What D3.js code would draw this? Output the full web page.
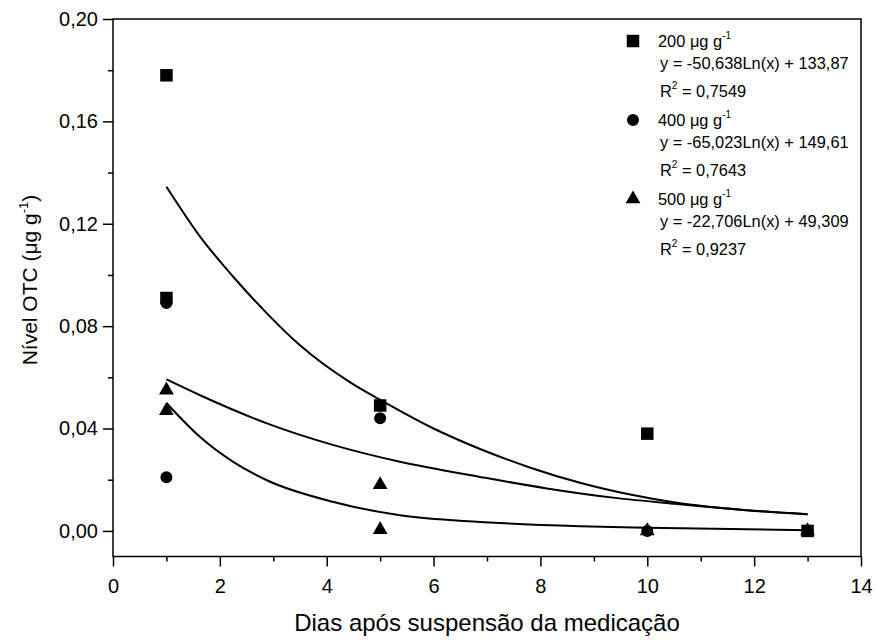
<!DOCTYPE html>
<html>
<head>
<meta charset="utf-8">
<script src="https://cdn.jsdelivr.net/npm/d3@7"></script>
<style>
  body { margin: 0; background: #fff; }
  text { font-family: "Liberation Sans", Arial, sans-serif; fill: #000; }
</style>
</head>
<body>
<script>
// Measured points (days, OTC level)
var days200 = [1, 1, 5, 10, 13];
var level200 = [0.178, 0.091, 0.049, 0.038, 0.0];
var days400 = [1, 1, 5, 10, 13];
var level400 = [0.089, 0.021, 0.044, 0.0, 0.0];
var days500 = [1, 1, 5, 5, 10, 13];
var level500 = [0.055, 0.047, 0.018, 0.0005, 0.0, 0.0];

// Fitted curves
var fitDays200 = [1, 1.63, 2.25, 2.88, 3.5, 4.44, 5.06, 6, 6.87, 7.8, 8.74, 9.68, 10.61, 11.86, 13];
var fitLevel200 = [0.1345, 0.115, 0.0993, 0.085, 0.0725, 0.058, 0.0505, 0.040, 0.032, 0.0248, 0.0188, 0.0142, 0.0108, 0.0081, 0.0065];
var fitDays400 = [1, 1.63, 2.88, 4.13, 5.37, 6.87, 8.12, 9.36, 10.61, 11.86, 13];
var fitLevel400 = [0.0592, 0.053, 0.042, 0.0335, 0.027, 0.0211, 0.0166, 0.013, 0.0104, 0.0081, 0.0065];
var fitDays500 = [1, 1.63, 2.25, 2.88, 4.13, 5.37, 6.87, 8.74, 10, 13];
var fitLevel500 = [0.050, 0.0367, 0.027, 0.0198, 0.0113, 0.0061, 0.0035, 0.0018, 0.0012, 0.0003];

// Legend texts
var seriesNames = ["200", "400", "500"];
var equations = ["y = -50,638Ln(x) + 133,87", "y = -65,023Ln(x) + 149,61", "y = -22,706Ln(x) + 49,309"];
var r2Values = ["0,7549", "0,7643", "0,9237"];

// Axis ticks
var xMajorTicks = [0, 2, 4, 6, 8, 10, 12, 14];
var xMinorTicks = [1, 3, 5, 7, 9, 11, 13];
var yMajorTicks = [0, 0.04, 0.08, 0.12, 0.16, 0.20];
var yMinorTicks = [0.02, 0.06, 0.10, 0.14, 0.18];

var width = 878, height = 641;
// plot box edges (window.top is read-only, so not "top")
var boxLeft = 113, boxRight = 861, boxTop = 19, boxBottom = 556.5;

var svg = d3.select("body").append("svg")
    .attr("width", width)
    .attr("height", height);

var x = d3.scaleLinear().domain([0, 14]).range([boxLeft, boxRight]);
var y = d3.scaleLinear().domain([-0.01, 0.20]).range([boxBottom, boxTop]);

function comma(d) { return d3.format(".2f")(d).replace(".", ","); }

// minor ticks first (no labels)
svg.append("g")
    .attr("transform", "translate(0," + boxBottom + ")")
    .call(d3.axisBottom(x).tickValues(xMinorTicks).tickSize(5).tickFormat(""))
    .call(function (g) { g.select(".domain").remove(); g.selectAll("line").attr("stroke-width", 1.5); });
svg.append("g")
    .attr("transform", "translate(" + boxLeft + ",0)")
    .call(d3.axisLeft(y).tickValues(yMinorTicks).tickSize(5).tickFormat(""))
    .call(function (g) { g.select(".domain").remove(); g.selectAll("line").attr("stroke-width", 1.5); });

// major ticks with labels
svg.append("g")
    .attr("transform", "translate(0," + boxBottom + ")")
    .call(d3.axisBottom(x).tickValues(xMajorTicks).tickSize(10).tickPadding(12))
    .call(function (g) {
        g.select(".domain").remove();
        g.selectAll("line").attr("stroke-width", 1.5);
        g.selectAll("text").attr("font-size", 20).attr("font-family", null);
    });
svg.append("g")
    .attr("transform", "translate(" + boxLeft + ",0)")
    .call(d3.axisLeft(y).tickValues(yMajorTicks).tickSize(10).tickPadding(5).tickFormat(comma))
    .call(function (g) {
        g.select(".domain").remove();
        g.selectAll("line").attr("stroke-width", 1.5);
        g.selectAll("text").attr("font-size", 20).attr("font-family", null);
    });

// frame
svg.append("rect")
    .attr("x", boxLeft).attr("y", boxTop)
    .attr("width", boxRight - boxLeft).attr("height", boxBottom - boxTop)
    .attr("fill", "none").attr("stroke", "#000").attr("stroke-width", 1.5);

// axis titles
svg.append("text")
    .attr("x", (boxLeft + boxRight) / 2).attr("y", 631)
    .attr("text-anchor", "middle").attr("font-size", 24)
    .text("Dias após suspensão da medicação");

var yTitle = svg.append("text")
    .attr("transform", "translate(37,280) rotate(-90)")
    .attr("text-anchor", "middle").attr("font-size", 21);
yTitle.append("tspan").text("Nível OTC (μg g");
yTitle.append("tspan").attr("font-size", 13).attr("dy", -9).text("-1");
yTitle.append("tspan").attr("dy", 9).text(")");

// fitted curves
var line = d3.line()
    .x(function (d) { return x(d[0]); })
    .y(function (d) { return y(d[1]); })
    .curve(d3.curveMonotoneX);

[[fitDays200, fitLevel200], [fitDays400, fitLevel400], [fitDays500, fitLevel500]].forEach(function (f) {
    svg.append("path")
        .attr("d", line(d3.zip(f[0], f[1])))
        .attr("fill", "none").attr("stroke", "#000").attr("stroke-width", 2);
});

// markers
var symbols = [d3.symbolSquare, d3.symbolCircle, d3.symbolTriangle];
var sizes = [156, 113, 95];
var series = [[days200, level200], [days400, level400], [days500, level500]];

series.forEach(function (s, i) {
    svg.append("g").selectAll("path")
        .data(d3.zip(s[0], s[1]))
        .enter()
        .append("path")
        .attr("transform", function (d) { return "translate(" + x(d[0]) + "," + y(d[1]) + ")"; })
        .attr("d", d3.symbol().type(symbols[i]).size(sizes[i]))
        .attr("fill", "#000");
});

// legend
var legendRows = [41, 120, 199];
seriesNames.forEach(function (name, i) {
    var ly = legendRows[i];
    svg.append("path")
        .attr("transform", "translate(633," + ly + ")")
        .attr("d", d3.symbol().type(symbols[i]).size(sizes[i]))
        .attr("fill", "#000");
    var t = svg.append("text").attr("x", 658).attr("y", ly + 6).attr("font-size", 16.4);
    t.append("tspan").text(name + " μg g");
    t.append("tspan").attr("font-size", 10).attr("dy", -8).text("-1");
    svg.append("text").attr("x", 660).attr("y", ly + 28).attr("font-size", 16.4).text(equations[i]);
    var r = svg.append("text").attr("x", 660).attr("y", ly + 56).attr("font-size", 16.4);
    r.append("tspan").text("R");
    r.append("tspan").attr("font-size", 10).attr("dy", -8).text("2");
    r.append("tspan").attr("dy", 8).text(" = " + r2Values[i]);
});
</script>
</body>
</html>
